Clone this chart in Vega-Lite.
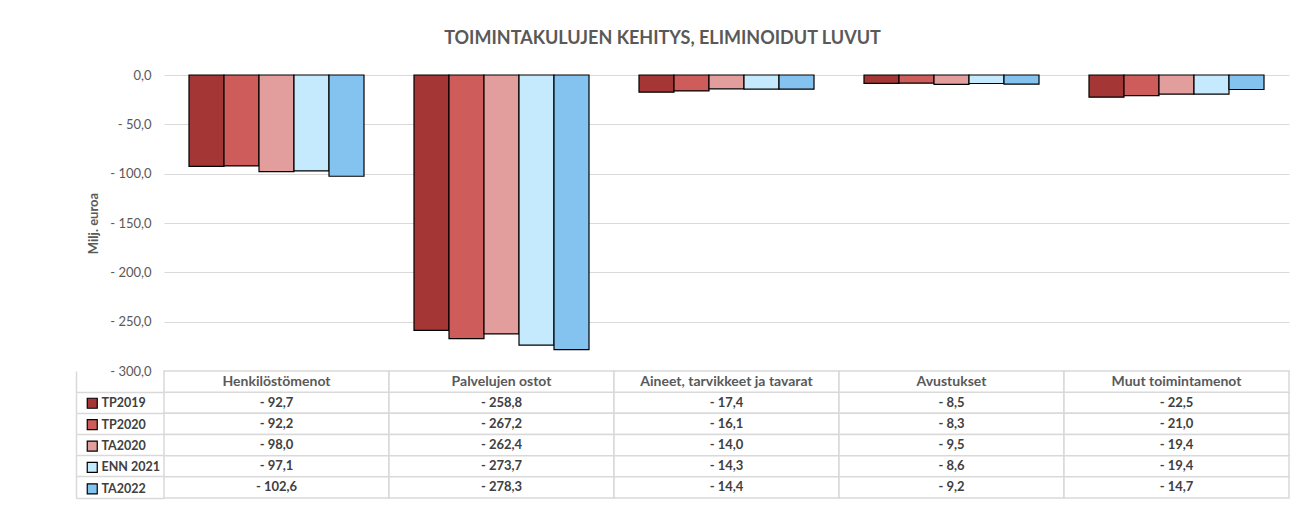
{
  "$schema": "https://vega.github.io/schema/vega-lite/v6.json",
  "background": "white",
  "padding": {"left": 75, "top": 30, "right": 8, "bottom": 10},
  "config": {
    "font": "Lato",
    "locale": {"number": {"decimal": ",", "thousands": " ", "grouping": [3], "currency": ["", " €"], "minus": "- "}},
    "view": {"stroke": null}
  },
  "title": {"text": "TOIMINTAKULUJEN KEHITYS, ELIMINOIDUT LUVUT", "fontSize": 18, "fontWeight": "bold", "color": "#595959", "anchor": "middle", "offset": 21, "dx": -20},
  "datasets": {
    "costs": [
      {"kategoria": "Henkilöstömenot", "sarja": "TP2019", "arvo": -92.7},
      {"kategoria": "Henkilöstömenot", "sarja": "TP2020", "arvo": -92.2},
      {"kategoria": "Henkilöstömenot", "sarja": "TA2020", "arvo": -98.0},
      {"kategoria": "Henkilöstömenot", "sarja": "ENN 2021", "arvo": -97.1},
      {"kategoria": "Henkilöstömenot", "sarja": "TA2022", "arvo": -102.6},
      {"kategoria": "Palvelujen ostot", "sarja": "TP2019", "arvo": -258.8},
      {"kategoria": "Palvelujen ostot", "sarja": "TP2020", "arvo": -267.2},
      {"kategoria": "Palvelujen ostot", "sarja": "TA2020", "arvo": -262.4},
      {"kategoria": "Palvelujen ostot", "sarja": "ENN 2021", "arvo": -273.7},
      {"kategoria": "Palvelujen ostot", "sarja": "TA2022", "arvo": -278.3},
      {"kategoria": "Aineet, tarvikkeet ja tavarat", "sarja": "TP2019", "arvo": -17.4},
      {"kategoria": "Aineet, tarvikkeet ja tavarat", "sarja": "TP2020", "arvo": -16.1},
      {"kategoria": "Aineet, tarvikkeet ja tavarat", "sarja": "TA2020", "arvo": -14.0},
      {"kategoria": "Aineet, tarvikkeet ja tavarat", "sarja": "ENN 2021", "arvo": -14.3},
      {"kategoria": "Aineet, tarvikkeet ja tavarat", "sarja": "TA2022", "arvo": -14.4},
      {"kategoria": "Avustukset", "sarja": "TP2019", "arvo": -8.5},
      {"kategoria": "Avustukset", "sarja": "TP2020", "arvo": -8.3},
      {"kategoria": "Avustukset", "sarja": "TA2020", "arvo": -9.5},
      {"kategoria": "Avustukset", "sarja": "ENN 2021", "arvo": -8.6},
      {"kategoria": "Avustukset", "sarja": "TA2022", "arvo": -9.2},
      {"kategoria": "Muut toimintamenot", "sarja": "TP2019", "arvo": -22.5},
      {"kategoria": "Muut toimintamenot", "sarja": "TP2020", "arvo": -21.0},
      {"kategoria": "Muut toimintamenot", "sarja": "TA2020", "arvo": -19.4},
      {"kategoria": "Muut toimintamenot", "sarja": "ENN 2021", "arvo": -19.4},
      {"kategoria": "Muut toimintamenot", "sarja": "TA2022", "arvo": -14.7}
    ]
  },
  "bounds": "flush",
  "spacing": 0,
  "vconcat": [
    {
      "width": 1125,
      "height": 296,
      "data": {"name": "costs"},
      "mark": {"type": "bar", "stroke": "black", "strokeWidth": 1.2},
      "encoding": {
        "x": {"field": "kategoria", "type": "nominal", "sort": null,
              "scale": {"domain": ["Henkilöstömenot", "Palvelujen ostot", "Aineet, tarvikkeet ja tavarat", "Avustukset", "Muut toimintamenot"], "paddingInner": 0.2222, "paddingOuter": 0.1111},
              "axis": null},
        "xOffset": {"field": "sarja", "type": "nominal", "scale": {"domain": ["TP2019", "TP2020", "TA2020", "ENN 2021", "TA2022"], "paddingInner": 0}},
        "y": {"field": "arvo", "type": "quantitative",
              "scale": {"domain": [-300, 0], "nice": false, "zero": true},
              "axis": {"title": "Milj. euroa", "values": [0, -50, -100, -150, -200, -250, -300], "format": ".1f",
                       "grid": true, "gridColor": "#d9d9d9", "gridWidth": 1.2, "domain": false, "ticks": false,
                       "labelFontSize": 13, "labelColor": "#595959", "labelPadding": 13,
                       "titleFontSize": 13, "titleColor": "#595959", "titleFontWeight": "bold", "titlePadding": 9}},
        "color": {"field": "sarja", "type": "nominal",
                  "scale": {"domain": ["TP2019", "TP2020", "TA2020", "ENN 2021", "TA2022"], "range": ["#a53636", "#cd5c5a", "#e29e9c", "#c5e9fd", "#84c3ef"]},
                  "legend": {"orient": "none", "legendX": -78, "legendY": 322, "title": null, "symbolType": "square", "symbolSize": 100,
                             "symbolStrokeColor": "black", "symbolStrokeWidth": 1.2, "symbolOpacity": 1,
                             "labelFontSize": 12.5, "labelColor": "#404040", "labelFontWeight": "bold", "labelOffset": 3, "rowPadding": 5.4, "padding": 0}}
      }
    },
    {
      "width": 1125,
      "height": 127,
      "data": {"name": "costs"},
      "encoding": {
        "x": {"field": "kategoria", "type": "nominal", "sort": null,
              "scale": {"domain": ["Henkilöstömenot", "Palvelujen ostot", "Aineet, tarvikkeet ja tavarat", "Avustukset", "Muut toimintamenot"], "paddingInner": 0, "paddingOuter": 0},
              "axis": null}
      },
      "layer": [
        {
          "mark": {"type": "rect", "fill": "white", "stroke": "#d9d9d9", "strokeWidth": 1.5},
          "encoding": {
            "y": {"field": "sarja", "type": "nominal",
                  "scale": {"domain": ["otsikko", "TP2019", "TP2020", "TA2020", "ENN 2021", "TA2022"], "paddingInner": 0, "paddingOuter": 0},
                  "axis": {"title": null, "labels": false, "domain": true, "domainColor": "#d9d9d9", "domainWidth": 1.5,
                           "offset": 88, "tickSize": -88, "bandPosition": 1, "tickWidth": 1.5, "tickColor": "#d9d9d9"}}
          }
        },
        {
          "transform": [{"filter": "datum.sarja === 'TP2019'"}],
          "mark": {"type": "rect", "fill": "white", "stroke": "#d9d9d9", "strokeWidth": 1.5},
          "encoding": {"y": {"datum": "otsikko", "type": "nominal"}}
        },
        {
          "mark": {"type": "text", "fontSize": 13, "fontWeight": "bold", "color": "#404040"},
          "encoding": {
            "y": {"field": "sarja", "type": "nominal"},
            "text": {"field": "arvo", "type": "quantitative", "format": ".1f"}
          }
        },
        {
          "transform": [{"filter": "datum.sarja === 'TP2019'"}],
          "mark": {"type": "text", "fontSize": 14, "fontWeight": "bold", "color": "#595959"},
          "encoding": {
            "y": {"datum": "otsikko", "type": "nominal"},
            "text": {"field": "kategoria", "type": "nominal"}
          }
        }
      ]
    }
  ]
}
